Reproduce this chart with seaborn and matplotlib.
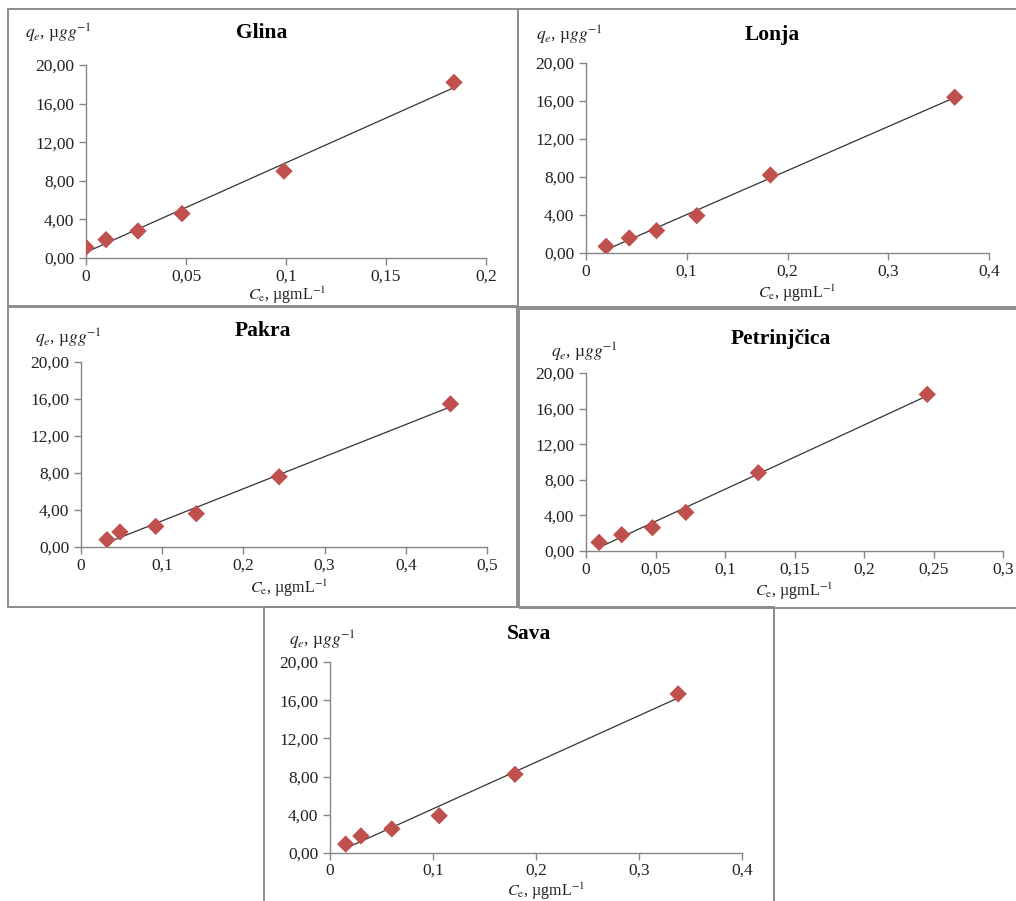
import numpy as np
import pandas as pd
import matplotlib
matplotlib.use("Agg")
import matplotlib.pyplot as plt
from matplotlib.patches import Rectangle
import seaborn as sns

# sampling sites and read-off isotherm points (Ce in ugmL-1, qe in ugg-1)
sites = ["Glina", "Lonja", "Pakra", "Petrinjčica", "Sava"]

glina_ce = [0.0, 0.010, 0.026, 0.048, 0.099, 0.184]
glina_qe = [1.10, 1.90, 2.80, 4.60, 9.00, 18.20]

lonja_ce = [0.020, 0.043, 0.070, 0.110, 0.183, 0.366]
lonja_qe = [0.70, 1.58, 2.35, 3.93, 8.21, 16.40]

pakra_ce = [0.032, 0.048, 0.092, 0.142, 0.244, 0.455]
pakra_qe = [0.79, 1.62, 2.23, 3.60, 7.59, 15.47]

petr_ce = [0.0094, 0.0257, 0.0478, 0.0718, 0.124, 0.2455]
petr_qe = [0.97, 1.83, 2.62, 4.34, 8.79, 17.60]

sava_ce = [0.0152, 0.030, 0.060, 0.106, 0.1796, 0.338]
sava_qe = [0.93, 1.79, 2.52, 3.90, 8.24, 16.66]

x_ticks = {
    "Glina": [0, 0.05, 0.1, 0.15, 0.2],
    "Lonja": [0, 0.1, 0.2, 0.3, 0.4],
    "Pakra": [0, 0.1, 0.2, 0.3, 0.4, 0.5],
    "Petrinjčica": [0, 0.05, 0.1, 0.15, 0.2, 0.25, 0.3],
    "Sava": [0, 0.1, 0.2, 0.3, 0.4],
}
y_ticks = [0, 4, 8, 12, 16, 20]

data = {
    "Glina": (glina_ce, glina_qe),
    "Lonja": (lonja_ce, lonja_qe),
    "Pakra": (pakra_ce, pakra_qe),
    "Petrinjčica": (petr_ce, petr_qe),
    "Sava": (sava_ce, sava_qe),
}

W, H = 1016, 901

# layout in pixels: frame box, axes box, title pos, ylabel pos, xlabel pos
layout = {
    "Glina": dict(box=(8, 9, 510, 297), ax=(86, 65, 486, 258),
                  title=(262, 33), ylab=(25, 33), xlab=(287, 295), pad=3),
    "Lonja": dict(box=(518, 9, 520, 298), ax=(586, 63, 989, 253),
                  title=(772, 35), ylab=(536, 35), xlab=(797, 293), pad=3),
    "Pakra": dict(box=(8, 307, 509, 300), ax=(81, 362, 487, 547),
                  title=(263, 331), ylab=(35, 338), xlab=(289, 588), pad=3),
    "Petrinjčica": dict(box=(519, 309, 520, 299), ax=(586, 373, 1003, 551),
                        title=(781, 339), ylab=(551, 352), xlab=(794, 591), pad=3),
    "Sava": dict(box=(264, 607, 510, 300), ax=(330, 662, 742, 853),
                 title=(529, 634), ylab=(289, 640), xlab=(546, 891), pad=2),
}

sns.set_style("ticks")
plt.rcParams["font.family"] = ["Liberation Serif", "DejaVu Serif"]
plt.rcParams["mathtext.fontset"] = "stix"

marker_color = "#C0504D"
axis_color = "#868686"

fig = plt.figure(figsize=(W / 100, H / 100), dpi=100)


def fmt(v):
    return f"{v:g}".replace(".", ",")


for site in sites:
    ce, qe = data[site]
    lay = layout[site]
    bx, by, bw, bh = lay["box"]
    fig.patches.append(Rectangle((bx / W, 1 - (by + bh) / H), bw / W, bh / H,
                                 transform=fig.transFigure, fill=False,
                                 edgecolor="#8c8c8c", linewidth=1.4, zorder=0))
    x0, y0, x1, y1 = lay["ax"]
    ax = fig.add_axes([x0 / W, 1 - y1 / H, (x1 - x0) / W, (y1 - y0) / H])
    df = pd.DataFrame({"Ce": ce, "qe": qe})
    sns.regplot(data=df, x="Ce", y="qe", ax=ax, ci=None, marker="D",
                scatter_kws=dict(s=78, color=marker_color, edgecolors="none",
                                 alpha=1, zorder=3),
                line_kws=dict(color="#333333", linewidth=0.9, zorder=2))
    xt = x_ticks[site]
    ax.set_xlim(xt[0], xt[-1])
    ax.set_ylim(0, 20)
    ax.set_xticks(xt)
    ax.set_xticklabels([fmt(v) for v in xt])
    ax.set_yticks(y_ticks)
    ax.set_yticklabels([f"{v:.2f}".replace(".", ",") for v in y_ticks])
    ax.set_xlabel("")
    ax.set_ylabel("")
    sns.despine(ax=ax)
    for s in ["left", "bottom"]:
        ax.spines[s].set_color(axis_color)
        ax.spines[s].set_linewidth(1.0)
    ax.tick_params(axis="both", colors=axis_color, labelcolor="#222222",
                   labelsize=12.5, length=5, width=1.0, direction="out")
    ax.tick_params(axis="x", pad=lay["pad"])
    ax.patch.set_alpha(0)

    tx, ty = lay["title"]
    fig.text(tx / W, 1 - ty / H, site, ha="center", va="center",
             fontsize=15.5, fontweight="bold", color="black")
    lx, ly = lay["ylab"]
    fig.text(lx / W, 1 - ly / H, r"$q_e$, µ$gg$$^{-1}$", ha="left", va="center",
             fontsize=12.5, color="#222222")
    cx, cy = lay["xlab"]
    fig.text(cx / W, 1 - cy / H, r"$C_{\mathrm{e}}$, µgmL$^{-1}$", ha="center",
             va="center", fontsize=11.5, color="#222222")

fig.savefig("out.png", dpi=100)
